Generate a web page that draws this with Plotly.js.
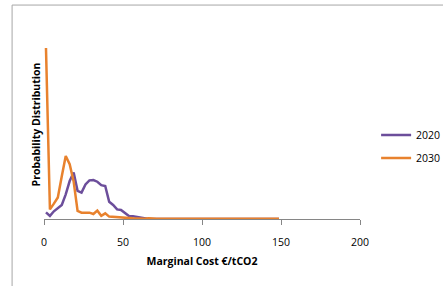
<!DOCTYPE html>
<html>
<head>
<meta charset="utf-8">
<script src="https://cdn.plot.ly/plotly-3.0.1.min.js"></script>
<style>html,body{margin:0;padding:0;background:#fff;}#chart{width:443px;height:286px;}</style>
</head>
<body>
<div id="chart"></div>
<script>
const marginalCost = [1.25,3.75,6.25,8.75,11.25,13.75,16.25,18.75,21.25,23.75,26.25,28.75,31.25,33.75,36.25,38.75,41.25,43.75,46.25,48.75,51.25,53.75,56.25,58.75,61.25,63.75,66.25,68.75,71.25,73.75,76.25,78.75,81.25,83.75,86.25,88.75,91.25,93.75,96.25,98.75,101.25,103.75,106.25,108.75,111.25,113.75,116.25,118.75,121.25,123.75,126.25,128.75,131.25,133.75,136.25,138.75,141.25,143.75,146.25,148.75];
const dist2020 = [3.9,1.8,4.5,6.5,8.2,14.4,22.2,27.2,16.5,15.4,20.2,22.6,22.8,21.8,19.8,19.3,10.1,8.2,5.6,5.3,3.3,1.8,1.6,1.2,0.6,0.2,0,0,0,0,0,0,0,0,0,0,0,0,0,0,0,0,0,0,0,0,0,0,0,0,0,0,0,0,0,0,0,0,0,0];
const dist2030 = [100,5.6,9,12.6,25,36.8,32,22,4.7,3.7,3.7,3.7,2.9,4.9,1.9,3.3,1.4,1.2,0.8,0.8,0.5,0.5,0.4,0.3,0.2,0.1,0.5,0.1,0.1,0.1,0.1,0.1,0.1,0.1,0.1,0.1,0.1,0.1,0.1,0.1,0.1,0.1,0.1,0.1,0.1,0.1,0.1,0.1,0.1,0.1,0.1,0.1,0.1,0.1,0.1,0.1,0.1,0.1,0.1,0.1];
const seriesNames = ['2020','2030'];
const xTicks = [0,50,100,150,200];

const FONT = 'Open Sans, Noto Sans, sans-serif';
const traces = [
  {x: marginalCost, y: dist2020, name: seriesNames[0], legendgroup: 'a', type: 'scatter', mode: 'lines',
   line: {color: '#6C4E9B', width: 2.5}},
  {x: marginalCost, y: dist2030, name: seriesNames[1], legendgroup: 'b', type: 'scatter', mode: 'lines',
   line: {color: '#E8822E', width: 2.5}}
];
const layout = {
  width: 443, height: 286,
  margin: {l: 44, r: 83, t: 30, b: 67, autoexpand: false},
  paper_bgcolor: '#fff', plot_bgcolor: '#fff',
  font: {family: FONT, size: 10.5, color: '#000'},
  showlegend: true,
  legend: {xref: 'container', yref: 'container', x: 0.849, xanchor: 'left', y: 0.488, yanchor: 'middle',
           font: {size: 10.5}, tracegroupgap: 4, itemwidth: 30, bgcolor: 'rgba(0,0,0,0)'},
  xaxis: {range: [0, 200], tickvals: xTicks, ticktext: xTicks.map(String),
          showgrid: false, zeroline: false, showline: true, linecolor: '#868686', linewidth: 1,
          ticks: 'outside', ticklen: 5, tickcolor: '#868686', ticklabelstandoff: 8,
          title: {text: '<b>Marginal Cost €/tCO2</b>', font: {size: 10.5}, standoff: 10}},
  yaxis: {range: [0, 110.5], showgrid: false, zeroline: false, showline: false,
          showticklabels: false, ticks: '',
          title: {text: '<b>Probability Distribution</b>', font: {size: 10.5}, standoff: 0}},
  shapes: [
    {type: 'line', xref: 'paper', yref: 'paper', x0: -0.101, x1: 1.5, y0: 1.132, y1: 1.132,
     line: {color: '#A6A6A6', width: 1}},
    {type: 'line', xref: 'paper', yref: 'paper', x0: -0.101, x1: -0.101, y0: 1.132, y1: -0.5,
     line: {color: '#A6A6A6', width: 1}}
  ]
};
Plotly.newPlot('chart', traces, layout, {displayModeBar: false, staticPlot: true});
</script>
</body>
</html>
